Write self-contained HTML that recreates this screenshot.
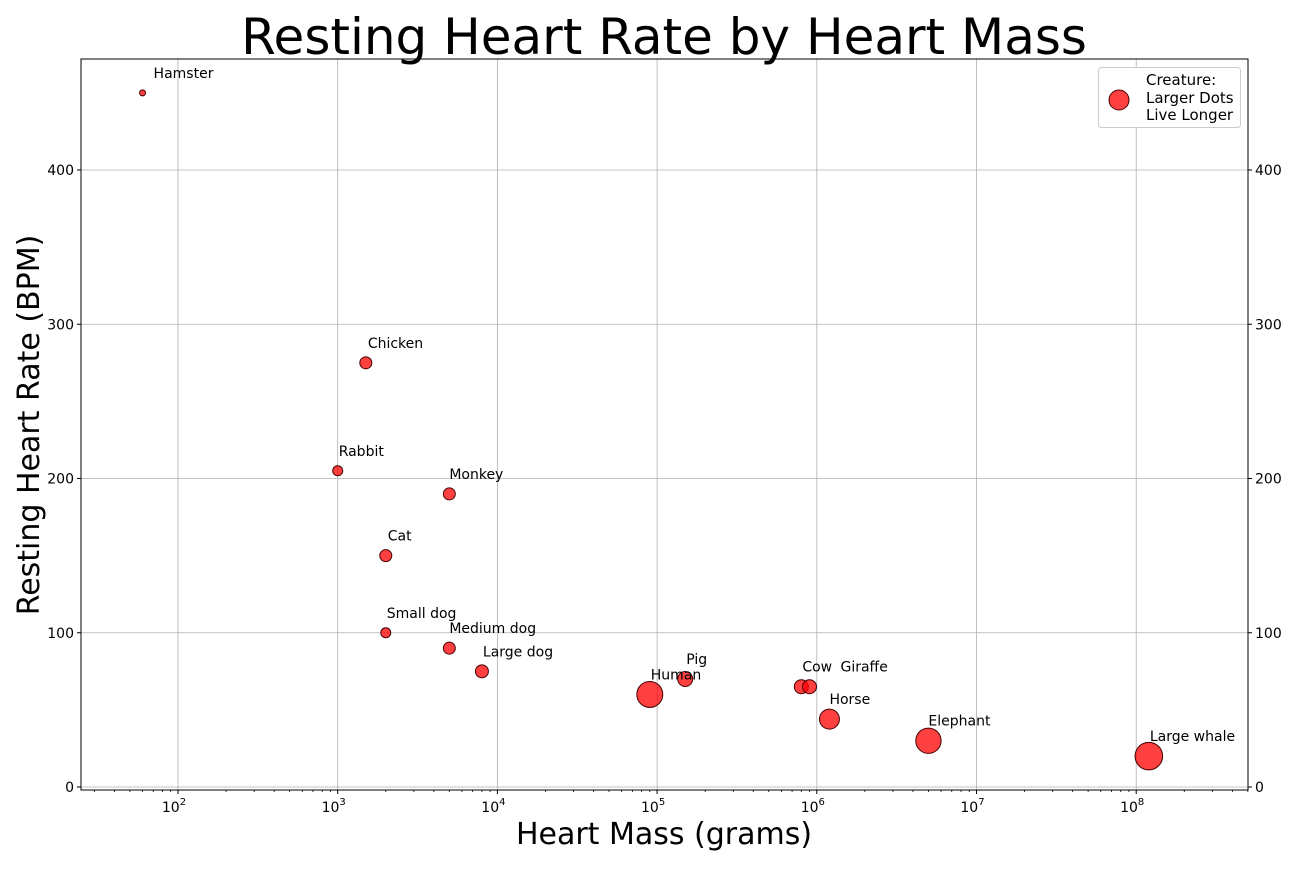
<!DOCTYPE html>
<html><head><meta charset="utf-8"><style>
body{margin:0;background:#fff;width:1296px;height:864px;overflow:hidden}
svg{font-family:"DejaVu Sans","Liberation Sans",sans-serif}
</style></head><body>
<svg id="chart" width="1296" height="864">
<text x="664" y="54" text-anchor="middle" font-size="50">Resting Heart Rate by Heart Mass</text>
<text x="664" y="844" text-anchor="middle" font-size="30">Heart Mass (grams)</text>
<text transform="translate(39,425) rotate(-90)" text-anchor="middle" font-size="30">Resting Heart Rate (BPM)</text>
<g id="grid"></g><g id="ticks"></g><g id="marks"></g><g id="labels"></g>
<rect x="81" y="59" width="1167" height="731" fill="none" stroke="#000" stroke-width="1"/>
<g>
<rect x="1098.5" y="67.5" width="142" height="60" rx="3" fill="#fff" stroke="#ccc"/>
<circle cx="1119" cy="100" r="10" fill="rgba(255,0,0,0.75)" stroke="#400" stroke-width="1"/>
<text x="1146" y="85" font-size="15">Creature:</text>
<text x="1146" y="103" font-size="15">Larger Dots</text>
<text x="1146" y="120" font-size="15">Live Longer</text>
</g>
</svg>
<script>
const names=["Hamster","Chicken","Rabbit","Monkey","Cat","Small dog","Medium dog","Large dog","Human","Pig","Cow","Giraffe","Horse","Elephant","Large whale"];
const mass=[60,1500,1000,5000,2000,2000,5000,8000,90000,150000,800000,900000,1200000,5000000,120000000];
const bpm=[450,275,205,190,150,100,90,75,60,70,65,65,44,30,20];
const sizes=[9,36,25,36,36,25,36,42,169,56,49,49,100,160,190];
const yTicks=[0,100,200,300,400];
const xExps=[2,3,4,5,6,7,8];
const labelDx=[11,2,1,0,2,1,0,1,1,1,1,31,0,0,1];
const L=81,R=1248,T=59,B=790;
const xl0=Math.log10(24.7),xl1=8.70;
const X=v=>L+(Math.log10(v)-xl0)/(xl1-xl0)*(R-L);
const Y=v=>787-v*1.5425;
const NS="http://www.w3.org/2000/svg";
function mk(t,a,p){const e=document.createElementNS(NS,t);for(const k in a)e.setAttribute(k,a[k]);p.appendChild(e);return e;}
const g=document.getElementById('grid'),tk=document.getElementById('ticks'),mg=document.getElementById('marks'),lg=document.getElementById('labels');
yTicks.forEach(v=>{const y=Y(v);
 const l=mk('line',{x1:L,x2:R,y1:y,y2:y,stroke:'#b0b0b0','stroke-width':0.8},g);
 
 mk('line',{x1:L-4,x2:L,y1:y,y2:y,stroke:'#000'},tk);mk('line',{x1:R,x2:R+4,y1:y,y2:y,stroke:'#000'},tk);
 const t1=mk('text',{x:L-7,y:y+5,'text-anchor':'end','font-size':14},tk);t1.textContent=v;
 
 const t2=mk('text',{x:R+7,y:y+5,'font-size':14},tk);t2.textContent=v;
 
});
xExps.forEach(e=>{const x=X(Math.pow(10,e));
 const l=mk('line',{x1:x,x2:x,y1:T,y2:B,stroke:'#b0b0b0','stroke-width':0.8},g);
 
 mk('line',{x1:x,x2:x,y1:B,y2:B+4,stroke:'#000'},tk);
 const t=mk('text',{x:x-4,y:B+22,'text-anchor':'middle','font-size':14},tk);
 
 t.textContent='10';const s=mk('tspan',{dy:-7,'font-size':10},t);s.textContent=e;
});
for(let e=1;e<=8;e++)for(let m=2;m<=9;m++){const v=m*Math.pow(10,e);const x=X(v);if(x>L&&x<R)mk('line',{x1:x,x2:x,y1:B,y2:B+2,stroke:'#000','stroke-width':0.8},tk);}
names.forEach((n,i)=>{const cx=X(mass[i]),cy=Y(bpm[i]);
 const c=mk('circle',{cx:cx,cy:cy,r:Math.sqrt(sizes[i]),fill:'rgba(255,0,0,0.75)',stroke:'#400','stroke-width':1},mg);
 
 
 const t=mk('text',{x:cx+labelDx[i],y:cy-15,'font-size':14},lg);t.textContent=n;
 
 
});
</script>
</body></html>
